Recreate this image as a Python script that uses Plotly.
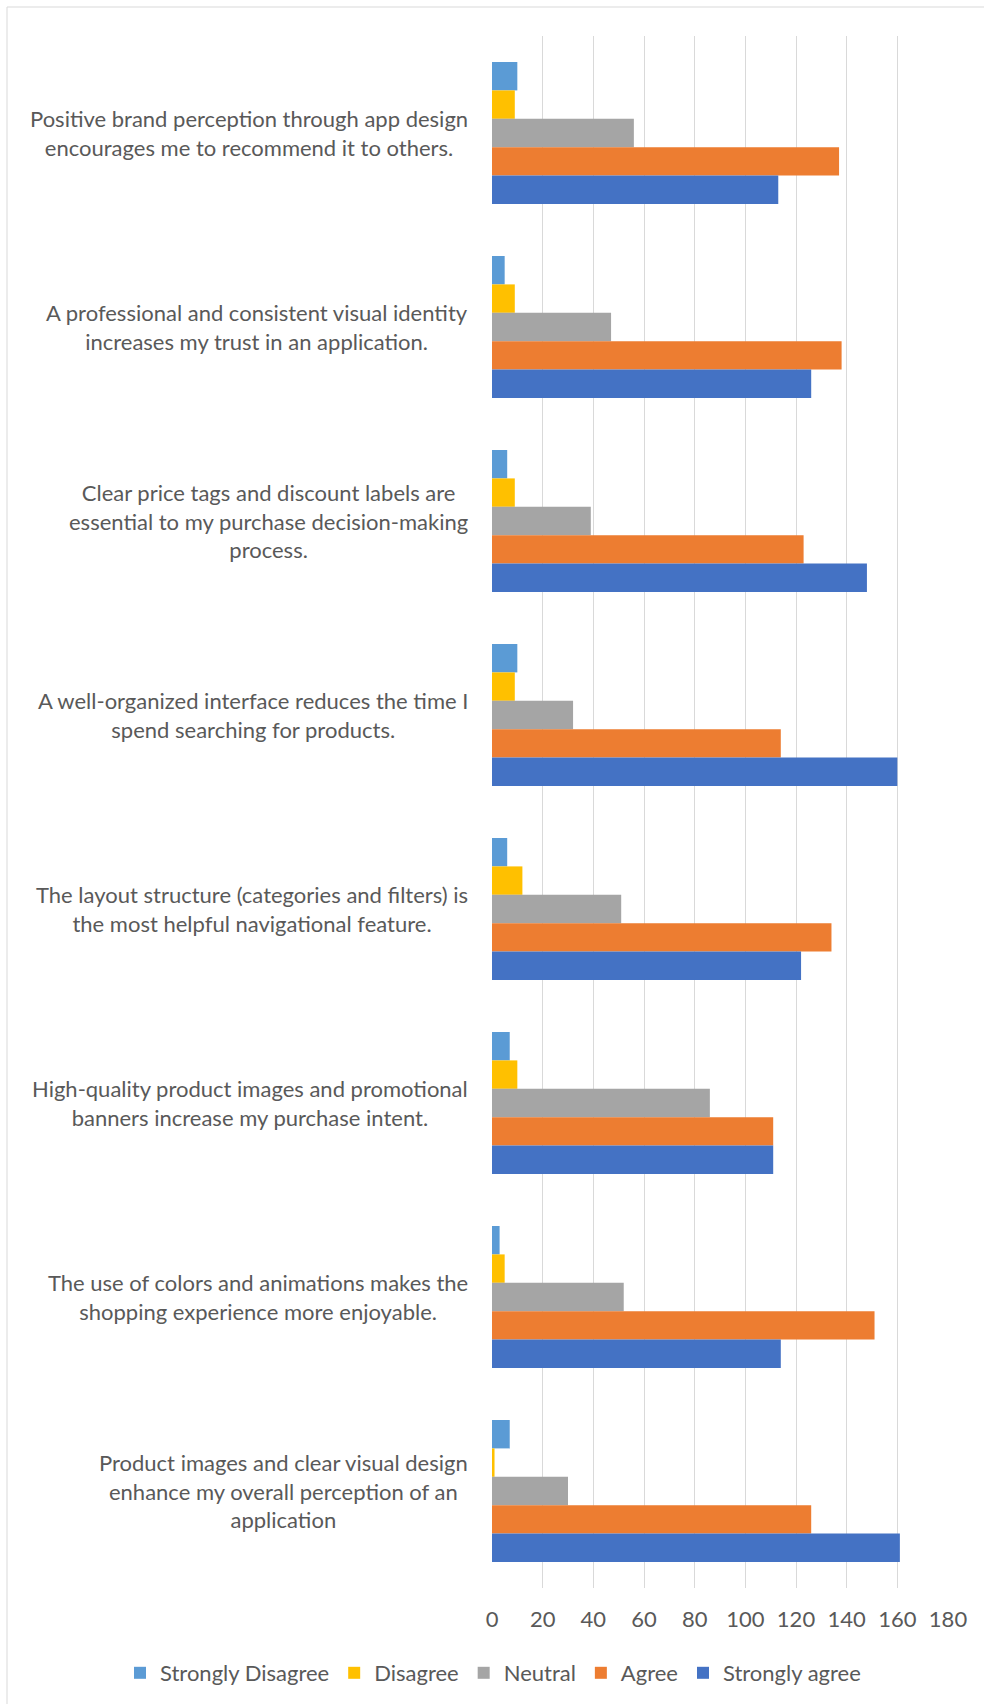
import plotly.graph_objects as go

categories = [
    "Positive brand perception through app design<br>encourages me to recommend it to others.",
    "A professional and consistent visual identity<br>increases my trust in an application.",
    "Clear price tags and discount labels are<br>essential to my purchase decision-making<br>process.",
    "A well-organized interface reduces the time I<br>spend searching for products.",
    "The layout structure (categories and filters) is<br>the most helpful navigational feature.",
    "High-quality product images and promotional<br>banners increase my purchase intent.",
    "The use of colors and animations makes the<br>shopping experience more enjoyable.",
    "Product images and clear visual design<br>enhance my overall perception of an<br>application",
]

strongly_disagree = [10, 5, 6, 10, 6, 7, 3, 7]
disagree = [9, 9, 9, 9, 12, 10, 5, 1]
neutral = [56, 47, 39, 32, 51, 86, 52, 30]
agree = [137, 138, 123, 114, 134, 111, 151, 126]
strongly_agree = [113, 126, 148, 160, 122, 111, 114, 161]

series_names = ["Strongly Disagree", "Disagree", "Neutral", "Agree", "Strongly agree"]
series_values = [strongly_disagree, disagree, neutral, agree, strongly_agree]
colors = ["#5B9BD5", "#FFC000", "#A5A5A5", "#ED7D31", "#4472C4"]

x_ticks = [0, 20, 40, 60, 80, 100, 120, 140, 160, 180]

W, H = 984, 1704
L, R, T, B = 492, 36, 36, 116
pw = W - L - R
ph = H - T - B

def px_to_paper_x(px):
    return (px - L) / pw

def px_to_paper_y(py):
    return (H - B - py) / ph

FONT = "Lato"
TXT = "#595959"
FS = 22

fig = go.Figure()
for name, vals, col in zip(series_names, series_values, colors):
    fig.add_trace(go.Bar(
        y=categories, x=vals, name=name, orientation="h",
        marker=dict(color=col, line=dict(width=0)),
    ))

annotations = []
for c in categories:
    annotations.append(dict(
        x=px_to_paper_x(470), xref="paper", y=c, yref="y",
        text=c, showarrow=False, xanchor="right", yanchor="middle",
        align="center", font=dict(family=FONT, size=FS, color=TXT),
    ))

shapes = [
    dict(type="line", xref="paper", yref="paper",
         x0=px_to_paper_x(7), x1=px_to_paper_x(7),
         y0=px_to_paper_y(7), y1=px_to_paper_y(H),
         line=dict(color="#d9d9d9", width=1)),
    dict(type="line", xref="paper", yref="paper",
         x0=px_to_paper_x(7), x1=px_to_paper_x(W),
         y0=px_to_paper_y(7), y1=px_to_paper_y(7),
         line=dict(color="#d9d9d9", width=1)),
]

fig.update_layout(
    width=W, height=H,
    margin=dict(l=L, r=R, t=T, b=B, pad=0, autoexpand=False),
    paper_bgcolor="white", plot_bgcolor="white",
    barmode="group", bargap=0.268, bargroupgap=0,
    font=dict(family=FONT, size=FS, color=TXT),
    annotations=annotations, shapes=shapes,
    showlegend=True,
    legend=dict(
        orientation="h", traceorder="normal",
        x=px_to_paper_x(120), xanchor="left",
        y=px_to_paper_y(1673), yanchor="middle",
        font=dict(family=FONT, size=FS, color=TXT),
        itemwidth=30, bgcolor="rgba(0,0,0,0)",
    ),
    xaxis=dict(
        range=[0, 180], tickvals=x_ticks, ticktext=[str(v) for v in x_ticks],
        showgrid=True, gridcolor="#d9d9d9", gridwidth=1,
        zeroline=False, showline=False, ticks="",
        tickfont=dict(family=FONT, size=FS, color=TXT),
        ticklabelstandoff=16,
        fixedrange=True,
    ),
    yaxis=dict(
        type="category", categoryorder="array", categoryarray=categories,
        autorange="reversed", showticklabels=False, showgrid=False,
        zeroline=False, showline=False, ticks="",
    ),
)

fig.write_html("out.html")
